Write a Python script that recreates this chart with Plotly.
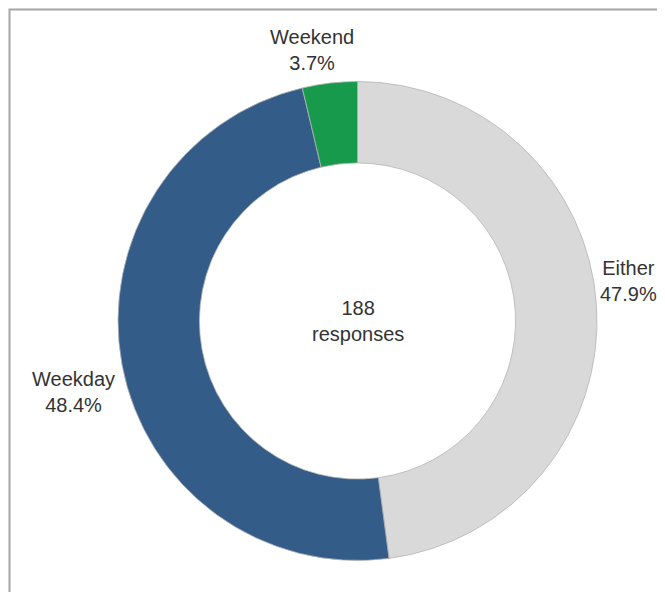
import plotly.graph_objects as go

categories = ["Either", "Weekday", "Weekend"]
shares = [47.9, 48.4, 3.7]
colors = ["#d9d9d9", "#335c89", "#179a4b"]
total_responses = 188

W, H = 665, 592
# page body adds an 8px offset; positions below are in figure pixels
cx, cy, r = 349.5, 313, 239.5
label_pos = {"Either": (620, 273), "Weekday": (65, 384), "Weekend": (304, 42)}
FONT = "Liberation Sans, Arial, sans-serif"

fig = go.Figure(go.Pie(
    labels=categories,
    values=shares,
    hole=0.66,
    sort=False,
    direction="clockwise",
    rotation=0,
    marker=dict(colors=colors, line=dict(color="#b5b5b5", width=0.8)),
    textinfo="none",
    showlegend=False,
    hoverinfo="label+percent",
    domain=dict(x=[(cx - r) / W, (cx + r) / W], y=[(H - cy - r) / H, (H - cy + r) / H]),
))

annotations = [
    dict(text=f"{total_responses}<br>responses", x=cx / W, y=1 - cy / H,
         xref="paper", yref="paper", showarrow=False, xanchor="center", yanchor="middle",
         font=dict(family=FONT, size=20, color="#333333")),
]
for cat, val in zip(categories, shares):
    px, py = label_pos[cat]
    annotations.append(dict(
        text=f"{cat}<br>{val:.1f}%", x=px / W, y=1 - py / H, xref="paper", yref="paper",
        showarrow=False, xanchor="center", yanchor="middle",
        font=dict(family=FONT, size=20, color="#333333")))

fig.update_layout(
    width=W, height=H,
    margin=dict(l=0, r=0, t=0, b=0),
    paper_bgcolor="white",
    plot_bgcolor="white",
    annotations=annotations,
    shapes=[dict(type="rect", xref="paper", yref="paper",
                 x0=1.5 / W, x1=1.05, y0=-0.05, y1=1 - 1.5 / H,
                 line=dict(color="#a6a6a6", width=2), fillcolor="rgba(0,0,0,0)", layer="below")],
)

fig.write_html("out.html")
